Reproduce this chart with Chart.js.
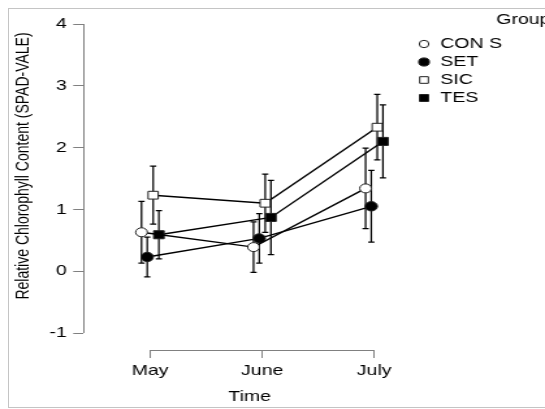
<!DOCTYPE html>
<html>
<head>
<meta charset="utf-8">
<script src="https://cdn.jsdelivr.net/npm/chart.js@4.4.0/dist/chart.umd.min.js"></script>
<style>
  html, body { margin: 0; padding: 0; background: #fff; overflow: hidden; }
  #frame { position: absolute; left: 8px; top: 8px; width: 545px; height: 398px;
           border-left: 1px solid #c4c4c4; border-top: 1px solid #c4c4c4; border-bottom: 1px solid #c4c4c4; }
  /* the reference is a horizontally stretched plot, so draw narrow and stretch */
  #wrap { position: absolute; left: 0; top: 0; width: 419px; height: 409px;
          transform: scaleX(1.3007); transform-origin: 0 0; }
</style>
</head>
<body>
<div id="frame"></div>
<div id="wrap"><canvas id="chart"></canvas></div>
<script>
const months = ['May', 'June', 'July'];
const groups = ['CON S', 'SET', 'SIC', 'TES'];

// group means per month
const conS = [0.63, 0.39, 1.34];
const set = [0.23, 0.53, 1.05];
const sic = [1.23, 1.10, 2.33];
const tes = [0.59, 0.87, 2.10];

// error bar half widths
const conSErr = [0.50, 0.41, 0.65];
const setErr = [0.32, 0.40, 0.58];
const sicErr = [0.47, 0.47, 0.53];
const tesErr = [0.39, 0.60, 0.59];

const yTicks = [-1, 0, 1, 2, 3, 4];
const yTitle = 'Relative Chlorophyll Content (SPAD-VALE)';
const xTitle = 'Time';
const legendTitle = 'Group';

const series = [conS, set, sic, tes];
const errors = [conSErr, setErr, sicErr, tesErr];
const dodge = [-0.077, -0.026, 0.027, 0.078];
const markers = [
    { pointStyle: 'circle', fill: '#ffffff', radius: 4.5, legendRadius: 3.7 },
    { pointStyle: 'circle', fill: '#000000', radius: 4.7, legendRadius: 4.1 },
    { pointStyle: 'rect', fill: '#ffffff', radius: 5.5, legendRadius: 4.7 },
    { pointStyle: 'rect', fill: '#000000', radius: 5.7, legendRadius: 4.9 }
];

const FONT = "'Liberation Sans', Arial, sans-serif";
Chart.defaults.font.family = FONT;
Chart.defaults.color = '#000';

const datasets = groups.map((name, i) => ({
    label: name,
    data: series[i].map((v, j) => ({ x: j + dodge[i], y: v })),
    showLine: true,
    borderColor: '#000',
    borderWidth: 1.4,
    pointStyle: markers[i].pointStyle,
    pointRadius: markers[i].radius,
    pointBackgroundColor: markers[i].fill,
    pointBorderColor: '#222',
    pointBorderWidth: 1
}));

const errorBars = {
    id: 'errorBars',
    beforeDatasetsDraw(chart) {
        const { ctx, scales: { x, y } } = chart;
        ctx.save();
        ctx.strokeStyle = '#000';
        ctx.lineWidth = 1.25;
        chart.data.datasets.forEach((ds, i) => {
            ds.data.forEach((p, j) => {
                const px = x.getPixelForValue(p.x);
                const top = y.getPixelForValue(p.y + errors[i][j]);
                const bot = y.getPixelForValue(p.y - errors[i][j]);
                ctx.beginPath();
                ctx.moveTo(px, top); ctx.lineTo(px, bot);
                ctx.moveTo(px - 2.4, top); ctx.lineTo(px + 2.4, top);
                ctx.moveTo(px - 2.4, bot); ctx.lineTo(px + 2.4, bot);
                ctx.stroke();
            });
        });
        ctx.restore();
    }
};

const axesAndLabels = {
    id: 'axesAndLabels',
    afterDraw(chart) {
        const { ctx, chartArea, scales: { x, y } } = chart;
        ctx.save();
        // axis lines only over the tick range
        ctx.strokeStyle = '#808080';
        ctx.lineWidth = 1;
        ctx.beginPath();
        ctx.moveTo(chartArea.left + 0.5, y.getPixelForValue(yTicks[yTicks.length - 1]));
        ctx.lineTo(chartArea.left + 0.5, y.getPixelForValue(yTicks[0]));
        ctx.moveTo(x.getPixelForValue(0), chartArea.bottom + 0.5);
        ctx.lineTo(x.getPixelForValue(months.length - 1), chartArea.bottom + 0.5);
        ctx.stroke();

        // y title
        ctx.fillStyle = '#000';
        ctx.font = '14px ' + FONT;
        ctx.textAlign = 'center';
        ctx.textBaseline = 'middle';
        ctx.translate(18.5, 166);
        ctx.rotate(-Math.PI / 2);
        ctx.fillText(yTitle, 0, 0);
        ctx.setTransform(1, 0, 0, 1, 0, 0);

        // legend
        ctx.font = '15px ' + FONT;
        ctx.textAlign = 'left';
        ctx.fillText(legendTitle, 381.5, 20);
        groups.forEach((name, i) => {
            const ly = 44 + i * 18;
            ctx.fillStyle = markers[i].fill;
            ctx.strokeStyle = '#222';
            ctx.lineWidth = 1;
            Chart.helpers.drawPoint(ctx, {
                pointStyle: markers[i].pointStyle,
                radius: markers[i].legendRadius,
                rotation: 0,
                borderWidth: 1
            }, 326, ly);
            ctx.fillStyle = '#000';
            ctx.fillText(name, 338.5, ly);
        });
        ctx.restore();
    }
};

new Chart(document.getElementById('chart'), {
    type: 'scatter',
    data: { datasets },
    options: {
        responsive: true,
        maintainAspectRatio: false,
        animation: false,
        layout: { padding: { top: 24, right: 99, left: 0, bottom: 0 } },
        plugins: { legend: { display: false }, tooltip: { enabled: false } },
        scales: {
            x: {
                type: 'linear',
                min: -0.597,
                max: 2.375,
                afterBuildTicks: scale => { scale.ticks = months.map((m, i) => ({ value: i })); },
                afterFit: scale => { scale.height = 59; },
                ticks: {
                    autoSkip: false,
                    maxRotation: 0,
                    padding: 4,
                    font: { size: 15 },
                    callback: value => months[Math.round(value)]
                },
                grid: { drawOnChartArea: false, tickLength: 8, color: '#808080' },
                border: { display: false },
                title: { display: true, text: xTitle, font: { size: 15 }, padding: { top: 0, bottom: 3 } }
            },
            y: {
                min: -1.275,
                max: 4,
                afterBuildTicks: scale => { scale.ticks = yTicks.map(v => ({ value: v })); },
                afterFit: scale => { scale.width = 64; },
                ticks: { padding: 5, font: { size: 15 } },
                grid: { drawOnChartArea: false, tickLength: 7.7, color: '#808080' },
                border: { display: false }
            }
        }
    },
    plugins: [errorBars, axesAndLabels]
});
</script>
</body>
</html>
